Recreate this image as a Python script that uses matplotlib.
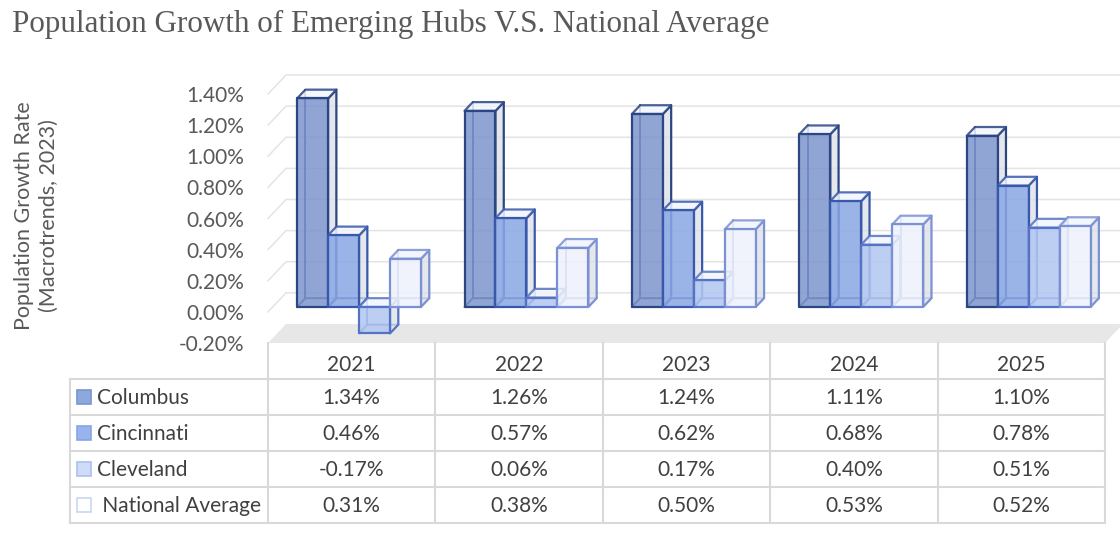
import matplotlib.pyplot as plt
from matplotlib.patches import Polygon, Rectangle
from matplotlib.ticker import FuncFormatter

years = ['2021', '2022', '2023', '2024', '2025']
series = ['Columbus', 'Cincinnati', 'Cleveland', ' National Average']
columbus = [1.34, 1.26, 1.24, 1.11, 1.10]
cincinnati = [0.46, 0.57, 0.62, 0.68, 0.78]
cleveland = [-0.17, 0.06, 0.17, 0.40, 0.51]
national = [0.31, 0.38, 0.50, 0.53, 0.52]
values = [columbus, cincinnati, cleveland, national]
y_ticks = [-0.2, 0.0, 0.2, 0.4, 0.6, 0.8, 1.0, 1.2, 1.4]

front_colors = ['#7d95cd', '#8aa7e4', '#b2c6f1', '#eef2fc']
edge_colors = ['#2b4683', '#3858ab', '#5473c5', '#7c91d3']
key_fill = ['#8fa8dc', '#98b4ec', '#cfdcf8', '#ffffff']
key_edge = ['#7994cf', '#87a5e6', '#aac0ef', '#c8d5f3']

FONT = 'Lato'
W, H = 1120, 535
fig = plt.figure(figsize=(W / 100, H / 100), dpi=100)

# plot box (front plane) in pixels
x_left, x_right = 268, 1105
y_top, y_bot = 94, 343
ymin, ymax = -0.2, 1.4
n = len(years)
ax = fig.add_axes([x_left / W, 1 - y_bot / H, (x_right - x_left) / W, (y_bot - y_top) / H])
ax.set_xlim(0, n)
ax.set_ylim(ymin, ymax)
for s in ax.spines.values():
    s.set_visible(False)
ax.set_xticks([])
ax.set_yticks(y_ticks)
ax.yaxis.set_major_formatter(FuncFormatter(lambda v, p: f'{v:.2f}%'))
ax.tick_params(axis='y', length=0, pad=17, labelsize=15, labelcolor='#595959')
for lab in ax.get_yticklabels():
    lab.set_fontfamily(FONT)

# oblique depth: full depth is ~18px right, 19px up
px_x = (x_right - x_left) / n
px_y = (y_bot - y_top) / (ymax - ymin)
ddx, ddy = 18 / px_x, 19 / px_y


def P(x, y, d):
    return (x + d * ddx, y + d * ddy)


# floor and walls
ax.add_patch(Polygon([P(0, ymin, 0), P(n, ymin, 0), P(n, ymin, 1), P(0, ymin, 1)],
                     closed=True, fc='#e7e7e7', ec='none', zorder=0, clip_on=False))
for t in y_ticks[1:]:
    pts = [P(0, t, 0), P(0, t, 1), P(n, t, 1)]
    ax.plot([p[0] for p in pts], [p[1] for p in pts], color='#e4e4e4', lw=1.1,
            zorder=0.5, clip_on=False)

# bars
bar_w = 0.185
off = 0.146
d1, d2 = 0.26, 0.72
z = 2
for i in range(n):
    for j, vals in enumerate(values):
        v = vals[i]
        x0 = i + off + j * bar_w
        x1 = x0 + bar_w
        y0, y1 = min(0, v), max(0, v)
        ec = edge_colors[j]
        # hidden edges
        hid = [[P(x0, y0, d1), P(x0, y0, d2), P(x1, y0, d2)],
               [P(x0, y0, d2), P(x0, y1, d2)]]
        for h in hid:
            ax.plot([p[0] for p in h], [p[1] for p in h], color=ec, lw=1.4,
                    zorder=z, clip_on=False, solid_capstyle='round')
        side = [P(x1, y0, d1), P(x1, y0, d2), P(x1, y1, d2), P(x1, y1, d1)]
        top = [P(x0, y1, d1), P(x1, y1, d1), P(x1, y1, d2), P(x0, y1, d2)]
        front = [P(x0, y0, d1), P(x1, y0, d1), P(x1, y1, d1), P(x0, y1, d1)]
        ax.add_patch(Polygon(side, closed=True, fc='#dcdfe6', alpha=0.75, ec='none',
                             zorder=z + 0.1, clip_on=False))
        ax.add_patch(Polygon(side, closed=True, fill=False, ec=ec, lw=1.6,
                             zorder=z + 0.15, clip_on=False, joinstyle='round'))
        ax.add_patch(Polygon(top, closed=True, fc='#f2f5fc', alpha=0.85, ec=ec, lw=1.6,
                             zorder=z + 0.2, clip_on=False, joinstyle='round'))
        ax.add_patch(Polygon(front, closed=True, fc=front_colors[j], alpha=0.85, ec='none',
                             zorder=z + 0.3, clip_on=False))
        ax.add_patch(Polygon(front, closed=True, fill=False, ec=ec, lw=1.6,
                             zorder=z + 0.35, clip_on=False, joinstyle='round'))
        z += 1

# data table under the plot, same x scale
label_px = x_left - 70
tax = fig.add_axes([70 / W, 1 - 523 / H, (x_right - 70) / W, 180 / H])
x_lab = -label_px / px_x
tax.set_xlim(x_lab, n)
tax.set_ylim(5, 0)
tax.axis('off')
grid_c = '#d9d9d9'
for r in range(1, 6):
    tax.plot([x_lab, n], [r, r], color=grid_c, lw=1.5, clip_on=False)
for c in range(0, n + 1):
    tax.plot([c, c], [0, 5], color=grid_c, lw=1.5, clip_on=False)
tax.plot([x_lab, x_lab], [1, 5], color=grid_c, lw=1.5, clip_on=False)

txt_c = '#404040'
for i, yr in enumerate(years):
    tax.text(i + 0.5, 0.62, yr, ha='center', va='center', fontsize=15,
             color=txt_c, family=FONT)
for j, vals in enumerate(values):
    row = j + 1.5
    for i, v in enumerate(vals):
        tax.text(i + 0.5, row + 0.02, f'{v:.2f}%', ha='center', va='center',
                 fontsize=15, color=txt_c, family=FONT)
    kx = x_lab + 7 / px_x
    tax.add_patch(Rectangle((kx, row - 0.2), 14 / px_x, 0.4, fc=key_fill[j],
                            ec=key_edge[j], lw=1.2, clip_on=False))
    tax.text(x_lab + 27 / px_x, row + 0.02, series[j], ha='left', va='center',
             fontsize=15, color=txt_c, family=FONT)

fig.text(36 / W, 1 - 216 / H, 'Population Growth Rate\n(Macrotrends, 2023)',
         rotation=90, ha='center', va='center', fontsize=15.5, color='#595959',
         family=FONT, linespacing=1.3)
fig.text(12 / W, 1 - 24 / H, 'Population Growth of Emerging Hubs V.S. National Average',
         ha='left', va='center', fontsize=22.4, color='#595959',
         family='Liberation Serif')

fig.savefig('out.png', dpi=100)
